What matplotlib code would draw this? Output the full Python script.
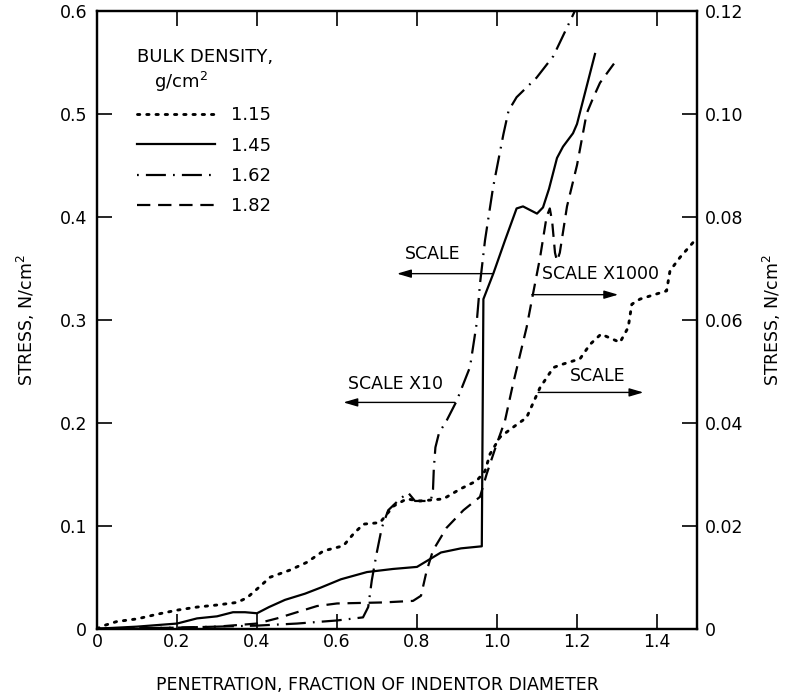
import matplotlib
matplotlib.use("Agg")
import matplotlib.pyplot as plt

plt.rcParams['font.family'] = ['DejaVu Sans']

# ---- data (penetration, fraction of indentor diameter) ----
# 1.15 g/cm^2, dotted, read on right axis (SCALE)
x115 = [0, 0.017, 0.05, 0.1, 0.15, 0.2, 0.25, 0.3, 0.35, 0.375,
        0.4, 0.433, 0.483, 0.525, 0.566, 0.616, 0.641, 0.666, 0.7075, 0.741,
        0.774, 0.8075, 0.866, 0.9075, 0.949, 0.97, 0.9825, 1.0075, 1.04, 1.074,
        1.1075, 1.141, 1.1575, 1.2075, 1.2325, 1.26, 1.3075, 1.328, 1.337, 1.3575,
        1.424, 1.4325, 1.4575, 1.497]
y115 = [0, 0.0006, 0.0014, 0.0019, 0.0028, 0.0036, 0.0042, 0.0046, 0.0051, 0.0060,
        0.0077, 0.0100, 0.0114, 0.0129, 0.0151, 0.0161, 0.0184, 0.0203, 0.0206, 0.0238,
        0.0252, 0.0248, 0.0252, 0.0271, 0.0287, 0.0306, 0.0339, 0.0372, 0.0391, 0.0410,
        0.0468, 0.0507, 0.0512, 0.0524, 0.0552, 0.0572, 0.0556, 0.0585, 0.0630, 0.0640,
        0.0656, 0.0695, 0.0721, 0.0756]

# 1.45 g/cm^2, solid, read on left axis (SCALE)
x145 = [0, 0.1, 0.2, 0.25, 0.3, 0.34, 0.37, 0.40, 0.43, 0.47,
        0.52, 0.56, 0.61, 0.675, 0.74, 0.80, 0.83, 0.86, 0.91, 0.962,
        0.966, 0.991, 1.02, 1.049, 1.065, 1.10, 1.115, 1.13, 1.15, 1.165,
        1.19, 1.20, 1.245]
y145 = [0, 0.002, 0.005, 0.010, 0.012, 0.016, 0.016, 0.015, 0.021, 0.028,
        0.034, 0.040, 0.048, 0.055, 0.058, 0.060, 0.067, 0.074, 0.078, 0.080,
        0.320, 0.345, 0.377, 0.408, 0.410, 0.403, 0.409, 0.427, 0.457, 0.468,
        0.481, 0.490, 0.558]

# 1.62 g/cm^2, dash-dot, read on left axis (SCALE X10)
x162 = [0, 0.1, 0.2, 0.3, 0.4, 0.5, 0.6, 0.665, 0.678, 0.687,
        0.699, 0.712, 0.728, 0.7575, 0.778, 0.795, 0.824, 0.835, 0.840, 0.842,
        0.846, 0.855, 0.874, 0.899, 0.9325, 0.949, 0.9575, 0.97, 0.99, 1.016,
        1.029, 1.049, 1.099, 1.141, 1.195]
y162 = [0, 0.0005, 0.001, 0.002, 0.003, 0.005, 0.008, 0.011, 0.021, 0.047,
        0.073, 0.098, 0.115, 0.126, 0.132, 0.124, 0.124, 0.125, 0.135, 0.155,
        0.176, 0.190, 0.202, 0.221, 0.254, 0.296, 0.335, 0.377, 0.428, 0.480,
        0.503, 0.516, 0.535, 0.556, 0.600]

# 1.82 g/cm^2, dashed, read on right axis (SCALE X1000)
x182 = [0, 0.1, 0.2, 0.3, 0.4, 0.45, 0.5, 0.55, 0.6, 0.716,
        0.79, 0.81, 0.824, 0.84, 0.874, 0.916, 0.9575, 0.974, 0.999, 1.02,
        1.04, 1.074, 1.09, 1.1075, 1.124, 1.132, 1.138, 1.145, 1.150, 1.157,
        1.165, 1.175, 1.20, 1.224, 1.24, 1.2575, 1.295]
y182 = [0, 0.0001, 0.0002, 0.0004, 0.0010, 0.0020, 0.0032, 0.0044, 0.0049, 0.0051,
        0.0054, 0.0064, 0.0112, 0.0152, 0.0196, 0.0230, 0.0256, 0.0300, 0.0358, 0.0404,
        0.0475, 0.0585, 0.0650, 0.0720, 0.0800, 0.0816, 0.0790, 0.0730, 0.0714, 0.0730,
        0.0770, 0.0820, 0.0900, 0.1000, 0.1030, 0.1060, 0.1100]

densities = ["1.15", "1.45", "1.62", "1.82"]

xticks = [0, 0.2, 0.4, 0.6, 0.8, 1.0, 1.2, 1.4]
xticklabels = ["0", "0.2", "0.4", "0.6", "0.8", "1.0", "1.2", "1.4"]
lticks = [0, 0.1, 0.2, 0.3, 0.4, 0.5, 0.6]
lticklabels = ["0", "0.1", "0.2", "0.3", "0.4", "0.5", "0.6"]
rticks = [0, 0.02, 0.04, 0.06, 0.08, 0.10, 0.12]
rticklabels = ["0", "0.02", "0.04", "0.06", "0.08", "0.10", "0.12"]

# ---- figure ----
fig = plt.figure(figsize=(7.86, 6.94), dpi=100)
ax = fig.add_axes([97/786, (694-628.7)/694, 600/786, 618/694])
ax2 = ax.twinx()

lw = 1.6
dot_style = (0, (0.8, 2.4))
dash_style = (0, (6, 3.5))
dashdot_style = (0, (0.8, 3.2, 9, 3.2))

l145, = ax.plot(x145, y145, color='black', lw=lw, linestyle='-', label=densities[1])
l162, = ax.plot(x162, y162, color='black', lw=lw, linestyle=dashdot_style, label=densities[2])
l115, = ax2.plot(x115, y115, color='black', lw=lw * 1.3, linestyle=dot_style,
                 dash_capstyle='round', label=densities[0])
l182, = ax2.plot(x182, y182, color='black', lw=lw, linestyle=dash_style, label=densities[3])

ax.set_xlim(0, 1.5)
ax.set_ylim(0, 0.6)
ax2.set_ylim(0, 0.12)

fs = 12.5
ax.set_xticks(xticks)
ax.set_xticklabels(xticklabels, fontsize=fs)
ax.set_yticks(lticks)
ax.set_yticklabels(lticklabels, fontsize=fs)
ax2.set_yticks(rticks)
ax2.set_yticklabels(rticklabels, fontsize=fs)

ax.tick_params(axis='x', direction='in', length=11, width=1.2, top=True, pad=3)
ax.tick_params(axis='y', direction='in', length=11, width=1.2, pad=7)
ax2.tick_params(axis='y', direction='in', length=11, width=1.2, pad=6)

for a in (ax, ax2):
    for s in a.spines.values():
        s.set_linewidth(1.6)

ax.set_xlabel("PENETRATION, FRACTION OF INDENTOR DIAMETER", fontsize=fs)
ax.xaxis.set_label_coords(0.4675, -0.0765)
ax.set_ylabel("STRESS, N/cm$^2$", fontsize=fs)
ax.yaxis.set_label_coords(-0.1, 0.5)
ax2.set_ylabel("STRESS, N/cm$^2$", fontsize=fs, rotation=90)
ax2.yaxis.set_label_coords(1.107, 0.5)

# legend
leg = ax2.legend(handles=[l115, l145, l162, l182], labels=densities,
                 loc='upper left', bbox_to_anchor=(0.0667, 0.939),
                 frameon=False, fontsize=13, title="BULK DENSITY,\n   g/cm$^2$",
                 title_fontsize=13, handlelength=4.3, handletextpad=0.9,
                 labelspacing=0.68, borderpad=0, borderaxespad=0,
                 alignment='left')

# annotations (positions in left-axis coordinates)
arrow_kw = dict(arrowstyle='-|>,head_length=0.85,head_width=0.25', lw=1.0,
                color='black', shrinkA=0, shrinkB=0, mutation_scale=10)
afs = 12.5
ax.text(0.84, 0.3635, "SCALE", ha='center', va='center', fontsize=afs)
ax.annotate('', xy=(0.75, 0.3447), xytext=(0.99, 0.3447), arrowprops=arrow_kw)
ax.text(0.745, 0.238, "SCALE X10", ha='center', va='center', fontsize=afs)
ax.annotate('', xy=(0.616, 0.2197), xytext=(0.895, 0.2197), arrowprops=arrow_kw)
ax.text(1.26, 0.3447, "SCALE X1000", ha='center', va='center', fontsize=afs)
ax.annotate('', xy=(1.303, 0.3243), xytext=(1.087, 0.3243), arrowprops=arrow_kw)
ax.text(1.251, 0.2456, "SCALE", ha='center', va='center', fontsize=afs)
ax.annotate('', xy=(1.366, 0.2294), xytext=(1.103, 0.2294), arrowprops=arrow_kw)

fig.savefig("out.png", dpi=100)
